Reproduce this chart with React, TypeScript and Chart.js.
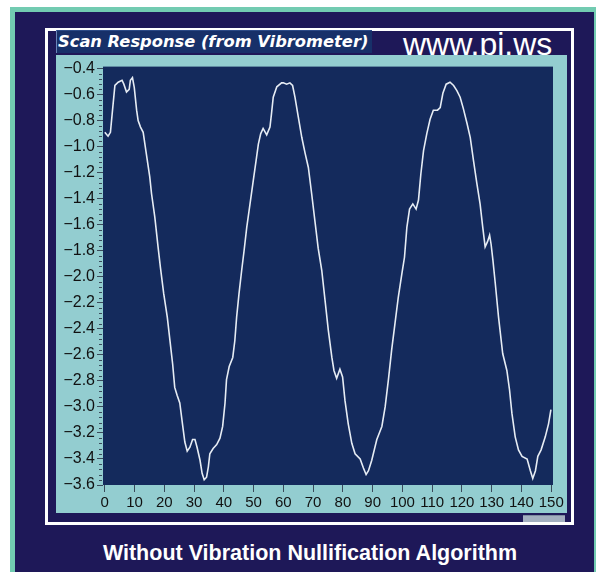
import React, { useEffect, useRef } from "react";
import Chart from "chart.js/auto";

const X_VALUES = [
  0.0, 1.1, 1.9, 2.6, 3.4, 4.5, 5.8, 6.4, 7.3, 8.2, 8.6, 9.3, 9.9, 10.7, 11.2, 12.0, 12.9, 13.8, 15.1, 15.7,
  16.8, 17.9, 18.7, 19.8, 21.0, 21.9, 22.8, 23.5, 24.3, 25.2, 26.1, 26.9, 27.7, 28.6, 29.5, 30.3, 31.0, 32.0,
  32.7, 33.4, 34.2, 34.8, 35.3, 36.4, 37.6, 38.7, 39.6, 40.4, 40.9, 41.8, 43.0, 43.7, 44.3, 45.1, 46.0, 46.8,
  47.7, 48.8, 49.9, 51.0, 51.6, 52.4, 53.2, 54.4, 55.5, 56.0, 56.6, 57.8, 59.4, 60.0, 61.1, 62.2, 63.1, 63.9,
  65.0, 66.2, 67.3, 68.4, 69.5, 70.6, 71.7, 72.9, 74.0, 75.1, 76.3, 77.0, 77.9, 79.0, 79.9, 80.7, 81.8, 83.0,
  84.1, 85.8, 86.9, 87.8, 88.6, 89.7, 91.4, 93.1, 94.2, 95.3, 96.4, 97.5, 98.6, 99.8, 100.7, 101.5, 102.4,
  103.5, 104.6, 105.4, 106.2, 107.1, 108.2, 109.3, 110.4, 111.8, 112.7, 113.6, 114.7, 116.0, 117.2, 118.3,
  119.4, 120.5, 121.7, 122.8, 123.9, 125.0, 126.1, 127.0, 127.8, 128.6, 129.3, 129.8, 130.4, 131.2, 132.3,
  133.7, 135.1, 136.0, 136.8, 137.9, 139.0, 140.2, 141.9, 143.0, 143.8, 144.7, 145.5, 146.6, 148.0, 149.1, 149.9,
];

const Y_VALUES = [
  -0.89, -0.92, -0.89, -0.72, -0.53, -0.505, -0.49, -0.52, -0.58, -0.56, -0.49, -0.47, -0.545, -0.72, -0.8, -0.85,
  -0.89, -1.03, -1.23, -1.36, -1.54, -1.77, -1.93, -2.13, -2.31, -2.49, -2.67, -2.85, -2.91, -2.97, -3.13, -3.27,
  -3.34, -3.31, -3.25, -3.25, -3.31, -3.41, -3.51, -3.56, -3.54, -3.46, -3.36, -3.32, -3.29, -3.24, -3.15, -2.97,
  -2.79, -2.69, -2.62, -2.49, -2.31, -2.13, -1.95, -1.8, -1.62, -1.44, -1.26, -1.08, -0.98, -0.9, -0.86, -0.91,
  -0.85, -0.75, -0.62, -0.54, -0.51, -0.51, -0.52, -0.51, -0.53, -0.62, -0.77, -0.93, -1.05, -1.16, -1.36, -1.57,
  -1.78, -1.95, -2.18, -2.41, -2.62, -2.72, -2.78, -2.71, -2.77, -2.95, -3.13, -3.28, -3.36, -3.4, -3.47, -3.52,
  -3.49, -3.41, -3.25, -3.15, -3.0, -2.79, -2.56, -2.36, -2.16, -1.98, -1.85, -1.62, -1.48, -1.44, -1.48, -1.41,
  -1.21, -1.03, -0.9, -0.79, -0.72, -0.72, -0.7, -0.59, -0.52, -0.505, -0.53, -0.57, -0.62, -0.71, -0.82, -0.93,
  -1.11, -1.28, -1.44, -1.62, -1.77, -1.73, -1.68, -1.75, -1.87, -2.05, -2.31, -2.59, -2.72, -2.87, -3.05, -3.23,
  -3.33, -3.38, -3.4, -3.49, -3.55, -3.49, -3.38, -3.33, -3.23, -3.13, -3.02,
];

const X_TICKS = [0, 10, 20, 30, 40, 50, 60, 70, 80, 90, 100, 110, 120, 130, 140, 150];
const Y_TICKS = [-3.6, -3.4, -3.2, -3.0, -2.8, -2.6, -2.4, -2.2, -2.0, -1.8, -1.6, -1.4, -1.2, -1.0, -0.8, -0.6, -0.4];

const TITLE = "Scan Response (from Vibrometer)";
const WATERMARK = "www.pi.ws";
const CAPTION = "Without Vibration Nullification Algorithm";

const TICK_FONT = "'Liberation Sans Narrow', 'Liberation Sans', Arial, sans-serif";

export default function App() {
  const canvasRef = useRef<HTMLCanvasElement | null>(null);

  useEffect(() => {
    if (!canvasRef.current) return;
    const plotBg = {
      id: "plotBg",
      beforeDraw(chart: any) {
        const { ctx, chartArea } = chart;
        ctx.save();
        ctx.fillStyle = "#142a5c";
        ctx.fillRect(chartArea.left, chartArea.top, chartArea.right - chartArea.left, chartArea.bottom - chartArea.top);
        ctx.restore();
      },
      afterDraw(chart: any) {
        const { ctx, chartArea } = chart;
        const ys = chart.scales.y;
        ctx.save();
        ctx.strokeStyle = "#3a4a5a";
        ctx.lineWidth = 1;
        for (let i = 0; i < Y_TICKS.length - 1; i++) {
          for (let k = 1; k < 5; k++) {
            const v = Y_TICKS[i] + ((Y_TICKS[i + 1] - Y_TICKS[i]) * k) / 5;
            const py = Math.round(ys.getPixelForValue(v)) + 0.5;
            ctx.beginPath();
            ctx.moveTo(chartArea.left - 4, py);
            ctx.lineTo(chartArea.left - 1, py);
            ctx.stroke();
          }
        }
        ctx.restore();
      },
    };

    const chart = new Chart(canvasRef.current, {
      type: "line",
      data: {
        datasets: [
          {
            data: X_VALUES.map((x, i) => ({ x, y: Y_VALUES[i] })),
            borderColor: "#e6ecf4",
            borderWidth: 1.6,
            pointRadius: 0,
            tension: 0,
            fill: false,
          },
        ],
      },
      options: {
        animation: false,
        responsive: false,
        events: [],
        layout: { padding: { top: 11, right: 14, left: 0, bottom: 0 } },
        plugins: { legend: { display: false }, tooltip: { enabled: false }, title: { display: false } },
        scales: {
          x: {
            type: "linear",
            min: -0.6,
            max: 150.6,
            afterBuildTicks: (scale: any) => {
              scale.ticks = X_TICKS.map((v) => ({ value: v }));
            },
            afterFit: (scale: any) => {
              scale.height = 28;
            },
            border: { display: false },
            grid: { drawOnChartArea: false, drawTicks: true, tickLength: 7, tickColor: "#3a4a5a", tickWidth: 1 },
            ticks: {
              color: "#111",
              padding: 2,
              maxRotation: 0,
              autoSkip: false,
              font: { family: TICK_FONT, size: 15 },
              callback: (v: any) => String(v),
            },
          },
          y: {
            type: "linear",
            min: -3.6,
            max: -0.385,
            afterBuildTicks: (scale: any) => {
              scale.ticks = Y_TICKS.map((v) => ({ value: v }));
            },
            afterFit: (scale: any) => {
              scale.width = 47;
            },
            border: { display: false },
            grid: { drawOnChartArea: false, drawTicks: true, tickLength: 6, tickColor: "#3a4a5a", tickWidth: 1 },
            ticks: {
              color: "#111",
              padding: 2,
              autoSkip: false,
              font: { family: TICK_FONT, size: 16 },
              callback: (v: any) => "\u2212" + Math.abs(Number(v)).toFixed(1),
            },
          },
        },
      },
      plugins: [plotBg],
    } as any);
    return () => chart.destroy();
  }, []);

  const abs = (l: number, t: number, w: number, h: number, extra: React.CSSProperties = {}): React.CSSProperties => ({
    position: "absolute",
    left: l,
    top: t,
    width: w,
    height: h,
    boxSizing: "border-box",
    ...extra,
  });

  return (
    <div style={{ position: "fixed", left: 0, top: 0, width: 596, height: 572, background: "#ffffff", overflow: "hidden" }}>
      <div style={abs(10, 7, 586, 565, { background: "#72cbb1" })} />
      <div style={abs(15, 12, 579, 560, { background: "#1e1858" })} />
      <div style={abs(45, 28, 529, 497, { border: "3px solid #ffffff", background: "#1e1858" })} />
      <div
        style={abs(56, 30, 316, 23, {
          background: "#173069",
          borderLeft: "1px solid #6a84b8",
          borderTop: "1px solid #2c4a86",
          color: "#ffffff",
          fontFamily: "'DejaVu Sans', Verdana, sans-serif",
          fontWeight: "bold",
          fontStyle: "italic",
          fontSize: 16.3,
          lineHeight: "21px",
          paddingLeft: 1,
          whiteSpace: "nowrap",
          overflow: "visible",
        })}
      >
        {TITLE}
      </div>
      <div
        style={abs(403, 26, 170, 36, {
          color: "#ffffff",
          fontFamily: "'Liberation Sans', Arial, sans-serif",
          fontSize: 32,
          lineHeight: "36px",
          whiteSpace: "nowrap",
        })}
      >
        {WATERMARK}
      </div>
      <div style={abs(56, 55, 511, 458, { background: "#93cdd0" })} />
      <canvas ref={canvasRef} width={511} height={458} style={{ position: "absolute", left: 56, top: 55, width: 511, height: 458 }} />
      <div style={abs(523, 515, 42, 7, { background: "#a3afc0", borderTop: "1px solid #7d8ba0" })} />
      <div
        style={abs(15, 537, 590, 32, {
          color: "#ffffff",
          textAlign: "center",
          fontFamily: "'Liberation Sans', Arial, sans-serif",
          fontWeight: "bold",
          fontSize: 21.5,
          lineHeight: "32px",
          whiteSpace: "nowrap",
        })}
      >
        {CAPTION}
      </div>
    </div>
  );
}
